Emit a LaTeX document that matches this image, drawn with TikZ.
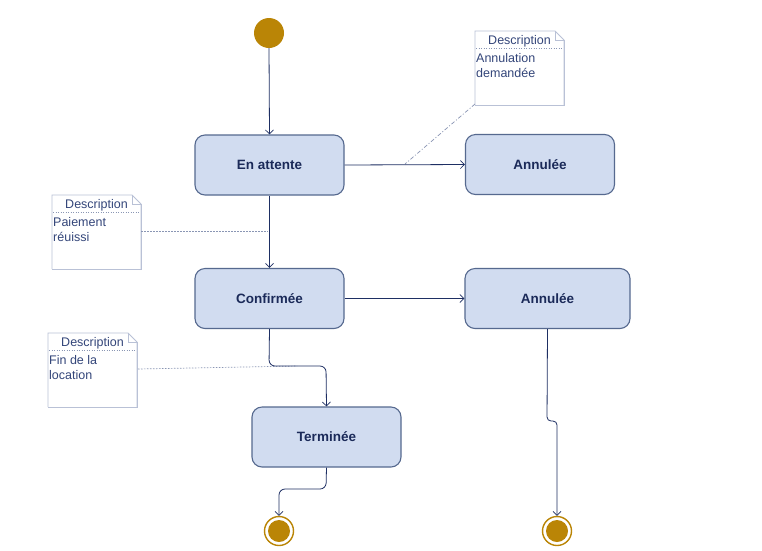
\documentclass[tikz,border=0pt]{standalone}
\usepackage{fontspec}
\setmainfont{Liberation Sans}
\usetikzlibrary{arrows.meta}
\definecolor{gold}{HTML}{BA8506}
\definecolor{boxfill}{HTML}{D1DCF0}
\definecolor{boxline}{HTML}{56698F}
\definecolor{wire}{HTML}{1E2F63}
\definecolor{notetext}{HTML}{34467A}
\definecolor{noteline}{HTML}{B9C1D6}
\definecolor{anchorline}{HTML}{8A96B4}
\tikzset{
  x=1pt, y=-1pt,
  statebox/.style={draw=boxline, line width=1.1pt, fill=boxfill, rounded corners=10pt,
    minimum width=#1, minimum height=60pt, inner sep=0pt,
    font=\fontsize{13.5}{15}\selectfont\bfseries, text=wire!90!black},
  statebox/.default=149pt,
  initst/.style={circle, fill=gold, minimum size=30pt, inner sep=0pt},
  finalst/.style={circle, draw=gold, line width=1.4pt, fill=white, minimum size=29pt, inner sep=0pt,
    path picture={\fill[gold] (path picture bounding box.center) circle (11pt);}},
  flow/.style={draw=wire, line width=0.8pt, -{Straight Barb[length=4pt,width=8pt,line width=0.7pt]}, rounded corners=6pt},
  notetxt/.style={font=\fontsize{12.5}{15}\selectfont, text=notetext, inner sep=0pt, anchor=north west, align=left},
  anchordash/.style={draw=anchorline, line width=0.7pt, dash pattern=on 1.5pt off 1.5pt},
}
\newcommand{\notebox}[4]{% name, x, y, text
  \begin{scope}[shift={(#2,#3)}]
    \fill[white] (0,0) -- (80,0) -- (89,9) -- (89,74) -- (0,74) -- cycle;
    \draw[noteline, line width=1.6pt] (89.6,9) -- (89.6,74.6) -- (0,74.6);
    \draw[noteline, line width=0.8pt] (0,74) -- (0,0) -- (80,0) -- (89,9) -- (89,74);
    \draw[noteline, line width=0.7pt] (80,0) -- (80,9) -- (89,9);
    \draw[anchorline, line width=0.6pt, dash pattern=on 1pt off 1.5pt] (1,17) -- (88,17);
    \node[notetxt, anchor=north] (#1h) at (44.5,4) {Description};
    \node[notetxt] (#1t) at (1,22.5) {#4};
  \end{scope}
  \coordinate (#1) at (#2,#3);
}
\begin{document}
\begin{tikzpicture}
\useasboundingbox[fill=white] (0,0) rectangle (762,550);

% notes
\notebox{n1}{475}{31}{Annulation\\demandée}
\notebox{n2}{52}{195}{Paiement\\réuissi}
\notebox{n3}{48}{333}{Fin de la\\location}

% states
\node[initst] (init) at (269,33) {};
\node[statebox] (att) at (269.5,165) {En attente};
\node[statebox] (ann1) at (540,164.5) {Annulée};
\node[statebox] (conf) at (269.5,298.5) {Confirmée};
\node[statebox=165pt] (ann2) at (547.5,298.5) {Annulée};
\node[statebox] (term) at (326.5,437) {Terminée};
\node[finalst] (f1) at (279,531) {};
\node[finalst] (f2) at (557,531) {};

% anchor lines of notes
\coordinate (a1) at (405,164);
\coordinate (a2) at (268,231);
\coordinate (a3) at (297,366);
\coordinate (n1c) at (475,104);
\coordinate (n2c) at (141,231);
\coordinate (n3c) at (138,369);
\draw[anchordash, dash pattern=on 4pt off 2pt on 1pt off 2pt] (n1c) -- (a1);
\draw[anchordash] (n2c) -- (a2);
\draw[anchordash] (n3c) -- (a3);

% transitions
\draw[flow] (init.south) -- (att.north);
\draw[flow] (att.east) -- (ann1.west);
\draw[flow] (att.south) -- (conf.north);
\draw[flow] (conf.east) -- (ann2.west |- conf.east);
\draw[flow] (conf.south) -- (269,366) -- (326,366) -- (term.north);
\draw[flow] (term.south) -- (326,489) -- (279,489) -- (f1.north);
\draw[flow, rounded corners=4pt] (ann2.south) -- (547,421) -- (557,421) -- (f2.north);
\end{tikzpicture}
\end{document}
